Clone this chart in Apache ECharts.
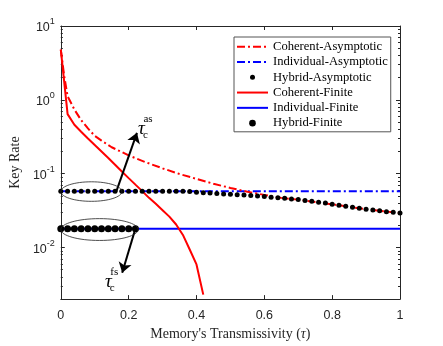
<!DOCTYPE html>
<html><head><meta charset="utf-8">
<script src="https://cdn.jsdelivr.net/npm/echarts@6/dist/echarts.min.js"></script>
<style>html,body{margin:0;padding:0;background:#fff}#c{width:443px;height:346px}</style>
</head><body><div id="c"></div>
<script>
// ---- data ----
const coherentAsymTau  = [0,0.01,0.02,0.04,0.06,0.08,0.10,0.12,0.15,0.20,0.25,0.30,0.35,0.40,0.45,0.50,0.55,0.60,0.65,0.70,0.75,0.80,0.85,0.90,0.95,1.00];
const coherentAsymRate = [4.8,2.1,1.12,0.74,0.53,0.41,0.325,0.28,0.228,0.177,0.143,0.118,0.099,0.085,0.073,0.064,0.057,0.0515,0.047,0.0445,0.0412,0.0385,0.0355,0.033,0.031,0.0293];
const individualAsymTau  = [0, 1];
const individualAsymRate = [0.058, 0.058];
const hybridAsymTau  = [0,0.02,0.04,0.06,0.08,0.10,0.12,0.14,0.16,0.18,0.20,0.22,0.24,0.26,0.28,0.30,0.32,0.34,0.36,0.38,0.40,0.42,0.44,0.46,0.48,0.50,0.52,0.54,0.56,0.58,0.60,0.62,0.64,0.66,0.68,0.70,0.72,0.74,0.76,0.78,0.80,0.82,0.84,0.86,0.88,0.90,0.92,0.94,0.96,0.98,1.00];
const hybridAsymRate = [0.058,0.058,0.058,0.058,0.058,0.058,0.058,0.058,0.058,0.058,0.058,0.058,0.058,0.058,0.058,0.058,0.058,0.058,0.058,0.0572,0.0562,0.0552,0.0545,0.0538,0.053,0.0525,0.052,0.0513,0.0505,0.0497,0.049,0.048,0.0472,0.0463,0.0455,0.0445,0.0433,0.0422,0.0411,0.04,0.0385,0.0373,0.0361,0.035,0.034,0.033,0.0322,0.0314,0.0306,0.0299,0.0293];
const coherentFiniteTau  = [0,0.02,0.04,0.06,0.08,0.10,0.12,0.14,0.16,0.18,0.20,0.22,0.24,0.26,0.28,0.30,0.32,0.34,0.36,0.38,0.40,0.42];
const coherentFiniteRate = [4.8,0.64,0.46,0.37,0.30,0.245,0.20,0.163,0.132,0.107,0.087,0.071,0.058,0.047,0.039,0.032,0.0262,0.0205,0.0148,0.0094,0.0059,0.0023];
const individualFiniteTau  = [0, 1];
const individualFiniteRate = [0.018, 0.018];
const hybridFiniteTau  = [0,0.02,0.04,0.06,0.08,0.10,0.12,0.14,0.16,0.18,0.20,0.22];
const hybridFiniteRate = [0.018,0.018,0.018,0.018,0.018,0.018,0.018,0.018,0.018,0.018,0.018,0.018];

const yMajorTicks = [0.01, 0.1, 1, 10];
const yMinorTicks = [0.003,0.004,0.005,0.006,0.007,0.008,0.009,
                     0.02,0.03,0.04,0.05,0.06,0.07,0.08,0.09,
                     0.2,0.3,0.4,0.5,0.6,0.7,0.8,0.9,
                     2,3,4,5,6,7,8,9];
const seriesNames = ['Coherent-Asymptotic','Individual-Asymptotic','Hybrid-Asymptotic','Coherent-Finite','Individual-Finite','Hybrid-Finite'];

// annotations (data coordinates)
const ellipseBoxes = [[0, 0.18, 0.0422, 0.0776], [0, 0.228, 0.01245, 0.0246]]; // [tauL, tauR, rateLow, rateHigh]
const arrowLines = [[[0.164, 0.058], [0.2245, 0.357]], [[0.22, 0.018], [0.181, 0.00455]]];
const tauLabelPos = [[0.2376, 0.403], [0.14, 0.00341]];
const tauLabelSup = ['as', 'fs'];

// ---- chart ----
const zip = (a, b) => a.map((v, i) => [v, b[i]]);
const SANS = "'Liberation Sans', Arial, Helvetica, sans-serif";
const SERIF = "'Liberation Serif', 'Times New Roman', serif";
const AX = '#262626';
const dashDot = [8, 3, 2, 3];
// legend icons in a 31x10 box
const iconDashDot = 'path://M0,0M31,10M0,4h8v2h-8zM11,4h2v2h-2zM16,4h8v2h-8zM27,4h2v2h-2z';
const iconSolid = 'path://M0,0M31,10M0,4h31v2h-31z';
const iconSmallDot = 'path://M0,0M31,10M13,5A2.5,2.5,0,1,1,18,5A2.5,2.5,0,1,1,13,5Z';
const iconBigDot = 'path://M0,0M31,10M12.2,5A3.3,3.3,0,1,1,18.8,5A3.3,3.3,0,1,1,12.2,5Z';

const chart = echarts.init(document.getElementById('c'), null, {renderer: 'canvas'});

const yBase = {type: 'log', logBase: 10, min: 0.002, max: 10, splitLine: {show: false}};
const option = {
  animation: false,
  backgroundColor: '#fff',
  grid: {left: 57, right: 43, top: 26, bottom: 41, containLabel: false},
  legend: {
    orient: 'vertical', left: 234, top: 37, padding: [2, 3, 1, 3],
    itemWidth: 31, itemHeight: 10, itemGap: 0,
    backgroundColor: '#fff', borderColor: '#555', borderWidth: 1,
    textStyle: {fontFamily: SERIF, fontSize: 12.6, color: '#000', lineHeight: 15.3},
    data: [
      {name: seriesNames[0], icon: iconDashDot},
      {name: seriesNames[1], icon: iconDashDot},
      {name: seriesNames[2], icon: iconSmallDot},
      {name: seriesNames[3], icon: iconSolid},
      {name: seriesNames[4], icon: iconSolid},
      {name: seriesNames[5], icon: iconBigDot}
    ]
  },
  xAxis: [
    {type: 'value', position: 'bottom', min: 0, max: 1, interval: 0.2,
     axisLine: {onZero: false, lineStyle: {color: AX, width: 1}},
     axisTick: {inside: true, length: 4, lineStyle: {color: AX}},
     axisLabel: {margin: 10, color: AX, fontFamily: SANS, fontSize: 12.5},
     splitLine: {show: false},
     name: "Memory's Transmissivity ({i|τ})", nameLocation: 'middle', nameGap: 25,
     nameTextStyle: {fontFamily: SERIF, fontSize: 14, color: AX,
       rich: {i: {fontFamily: SERIF, fontSize: 14, fontStyle: 'italic', color: AX}}}},
    {type: 'value', position: 'top', min: 0, max: 1, interval: 0.2,
     axisLine: {onZero: false, lineStyle: {color: AX, width: 1}},
     axisTick: {inside: true, length: 4, lineStyle: {color: AX}},
     axisLabel: {show: false}, splitLine: {show: false}}
  ],
  yAxis: [
    Object.assign({}, yBase, {position: 'left',
      axisLine: {show: true, lineStyle: {color: AX, width: 1}},
      axisTick: {inside: true, length: 4, customValues: yMajorTicks, lineStyle: {color: AX}},
      axisLabel: {customValues: yMajorTicks, margin: 6, color: AX,
        formatter: v => '{b|10}{s|' + Math.round(Math.log10(v)) + '}',
        rich: {b: {fontFamily: SANS, fontSize: 12.5, color: AX, padding: [4, 0, 0, 0]},
               s: {fontFamily: SANS, fontSize: 9, color: AX, padding: [0, 0, 8, 0]}}},
      name: 'Key Rate', nameLocation: 'middle', nameGap: 29, nameRotate: 90,
      nameTextStyle: {fontFamily: SERIF, fontSize: 14, color: AX}}),
    Object.assign({}, yBase, {position: 'left',
      axisLine: {show: false},
      axisTick: {inside: true, length: 2, customValues: yMinorTicks, lineStyle: {color: AX}},
      axisLabel: {show: false}}),
    Object.assign({}, yBase, {position: 'right',
      axisLine: {show: true, lineStyle: {color: AX, width: 1}},
      axisTick: {inside: true, length: 4, customValues: yMajorTicks, lineStyle: {color: AX}},
      axisLabel: {show: false}}),
    Object.assign({}, yBase, {position: 'right',
      axisLine: {show: false},
      axisTick: {inside: true, length: 2, customValues: yMinorTicks, lineStyle: {color: AX}},
      axisLabel: {show: false}})
  ],
  series: [
    {name: seriesNames[1], type: 'line', symbol: 'none', z: 2,
     lineStyle: {color: '#0000ff', width: 2, type: dashDot}, itemStyle: {color: '#0000ff'},
     data: zip(individualAsymTau, individualAsymRate)},
    {name: seriesNames[4], type: 'line', symbol: 'none', z: 2,
     lineStyle: {color: '#0000ff', width: 2, type: 'solid'}, itemStyle: {color: '#0000ff'},
     data: zip(individualFiniteTau, individualFiniteRate)},
    {name: seriesNames[0], type: 'line', symbol: 'none', z: 3,
     lineStyle: {color: '#ff0000', width: 2, type: dashDot}, itemStyle: {color: '#ff0000'},
     data: zip(coherentAsymTau, coherentAsymRate)},
    {name: seriesNames[3], type: 'line', symbol: 'none', z: 3,
     lineStyle: {color: '#ff0000', width: 2, type: 'solid'}, itemStyle: {color: '#ff0000'},
     data: zip(coherentFiniteTau, coherentFiniteRate)},
    {name: seriesNames[2], type: 'scatter', symbol: 'circle', symbolSize: 5, z: 4,
     itemStyle: {color: '#000', opacity: 1},
     data: zip(hybridAsymTau, hybridAsymRate)},
    {name: seriesNames[5], type: 'scatter', symbol: 'circle', symbolSize: 7, z: 4,
     itemStyle: {color: '#000', opacity: 1},
     data: zip(hybridFiniteTau, hybridFiniteRate),
     markLine: {silent: true, symbol: ['none', 'arrow'], symbolSize: 10,
       label: {show: false}, lineStyle: {color: '#000', width: 2, type: 'solid'},
       emphasis: {disabled: true},
       data: arrowLines.map(l => [{coord: l[0]}, {coord: l[1]}])}},
    {type: 'custom', z: 5, silent: true, clip: false,
     encode: {x: [0, 1], y: [2, 3]},
     renderItem: (params, api) => {
       const p1 = api.coord([api.value(0), api.value(3)]);
       const p2 = api.coord([api.value(1), api.value(2)]);
       return {type: 'ellipse',
         shape: {cx: (p1[0] + p2[0]) / 2, cy: (p1[1] + p2[1]) / 2,
                 rx: Math.abs(p2[0] - p1[0]) / 2, ry: Math.abs(p2[1] - p1[1]) / 2},
         style: {fill: 'none', stroke: '#222', lineWidth: 0.8}};
     },
     data: ellipseBoxes},
    {type: 'custom', z: 6, silent: true, clip: false,
     encode: {x: 0, y: 1},
     renderItem: (params, api) => {
       const p = api.coord([api.value(0), api.value(1)]);
       return {type: 'group', children: [
         {type: 'text', x: p[0], y: p[1], style: {text: 'τ', font: 'italic 19px ' + SERIF, fill: '#000', textAlign: 'center', textVerticalAlign: 'middle'}},
         {type: 'text', x: p[0] + 2, y: p[1] - 10, style: {text: tauLabelSup[params.dataIndex], font: '11px ' + SERIF, fill: '#000', textAlign: 'left', textVerticalAlign: 'middle'}},
         {type: 'text', x: p[0] + 1.5, y: p[1] + 6, style: {text: 'c', font: '11px ' + SERIF, fill: '#000', textAlign: 'left', textVerticalAlign: 'middle'}}
       ]};
     },
     data: tauLabelPos}
  ]
};
chart.setOption(option);
</script></body></html>
